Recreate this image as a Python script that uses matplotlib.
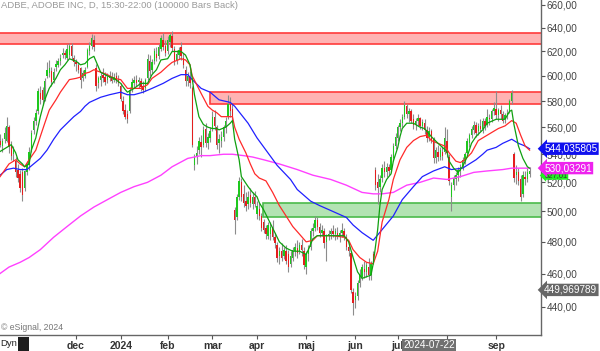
import matplotlib
matplotlib.use('Agg')
import matplotlib.pyplot as plt
from matplotlib.patches import Rectangle
import numpy as np

plt.rcParams['font.family'] = ['Liberation Sans', 'DejaVu Sans']

# daily bars, ADBE, 2023-10-11 .. 2024-09-24 (index = trading day)
open_ = [550, 548, 550, 546, 551, 550, 560, 547, 540, 535, 529, 526, 527, 516, 527,
         532, 544, 558, 565, 572, 586, 589, 582, 600, 602, 604, 597, 607, 609, 612,
         617, 619, 615, 617, 625, 615,
         611, 609, 606, 598, 600, 607, 620, 625, 630, 606, 594, 597, 601, 599, 597,
         600, 599, 597, 600, 597,
         592, 580, 573, 570, 572, 590, 594, 597, 595, 596, 592, 590, 598, 612, 605,
         612, 618, 616, 622, 630, 625,
         620, 628, 633, 622, 613, 617, 624, 615, 605, 596, 599, 590, 532, 538, 543,
         549, 547, 559, 548, 552,
         559, 568, 560, 548, 550, 553, 560, 568, 578, 574, 501, 496, 510, 520, 512,
         507, 505, 511, 505, 510,
         498, 502, 497, 493, 489, 484, 485, 490, 483, 478, 471, 474, 471, 474, 472,
         466, 470, 474, 476, 474, 478, 474,
         464, 472, 477, 487, 489, 494, 490, 486, 487, 480, 484, 485, 487, 485, 486,
         484, 486, 487, 483, 477, 473, 449,
         444, 446, 454, 458, 463, 461, 464, 459, 472, 529, 520, 517, 523, 530, 527,
         531, 529, 537, 546,
         552, 560, 563, 568, 576, 570, 572, 566, 562, 565, 567, 561, 563, 558, 553,
         557, 551, 537, 542, 538, 542, 542,
         550, 538, 510, 518, 522, 525, 528, 531, 535, 541, 548, 554, 558, 562, 557,
         561, 559, 565, 562, 567, 566, 572,
         574, 569, 573, 570, 566, 569, 572, 580, 540, 525, 527, 522, 512, 524, 522, 526]
high = [556, 553, 555, 552, 560, 568, 562, 550, 546, 538, 533, 529, 530, 529, 535,
        545, 558, 568, 574, 590, 592, 591, 598, 611, 613, 607, 606, 613, 615, 618,
        623, 621, 626, 627, 627, 617,
        614, 611, 607, 605, 607, 623, 628, 635, 634, 610, 600, 603, 606, 603, 602,
        604, 603, 602, 603, 601,
        594, 584, 578, 573, 591, 598, 600, 601, 599, 598, 596, 598, 618, 617, 614,
        623, 624, 626, 634, 636, 630,
        633, 636, 637, 625, 621, 624, 628, 619, 608, 603, 604, 592, 540, 546, 553,
        554, 561, 563, 556, 560,
        572, 573, 562, 555, 557, 562, 568, 585, 583, 578, 503, 512, 524, 523, 518,
        513, 514, 516, 513, 514,
        507, 506, 499, 495, 491, 493, 493, 494, 486, 480, 477, 479, 477, 478, 475,
        474, 477, 479, 481, 480, 482, 477,
        474, 478, 489, 492, 497, 496, 492, 491, 489, 485, 488, 489, 491, 489, 490,
        488, 492, 489, 485, 480, 474, 451,
        449, 456, 463, 466, 468, 467, 470, 468, 474, 531, 526, 525, 533, 535, 534,
        533, 540, 548, 556,
        562, 566, 570, 580, 578, 575, 574, 570, 567, 570, 568, 566, 566, 561, 560,
        559, 553, 545, 547, 545, 546, 560,
        559, 540, 520, 525, 527, 531, 533, 538, 542, 552, 556, 561, 565, 564, 563,
        566, 567, 567, 574, 570, 574, 579,
        588, 575, 577, 572, 571, 574, 582, 589, 542, 532, 530, 525, 528, 528, 530, 531]
low = [546, 544, 545, 542, 548, 549, 541, 536, 535, 524, 520, 513, 507, 514, 525,
       529, 542, 555, 562, 570, 578, 577, 580, 598, 599, 592, 594, 604, 607, 609,
       615, 614, 613, 615, 613, 608,
       604, 602, 590, 596, 598, 606, 617, 622, 620, 588, 590, 592, 595, 593, 594,
       596, 594, 595, 594, 592,
       580, 570, 566, 563, 571, 587, 590, 592, 590, 588, 586, 588, 597, 600, 602,
       610, 612, 614, 620, 621, 616,
       618, 624, 620, 609, 610, 614, 613, 606, 592, 592, 590, 545, 529, 533, 540,
       538, 545, 545, 544, 549,
       557, 558, 544, 541, 545, 550, 556, 566, 568, 565, 485, 494, 508, 507, 503,
       500, 502, 503, 502, 503,
       495, 494, 487, 486, 482, 482, 481, 481, 476, 467, 466, 468, 469, 466, 461,
       464, 468, 471, 470, 472, 471, 463,
       460, 468, 475, 484, 487, 488, 483, 484, 476, 468, 481, 482, 483, 481, 482,
       480, 483, 481, 475, 471, 448, 435,
       439, 444, 452, 456, 457, 458, 456, 456, 466, 515, 505, 513, 520, 524, 524,
       525, 527, 535, 544,
       550, 557, 560, 566, 567, 564, 563, 559, 558, 561, 559, 558, 555, 549, 550,
       548, 534, 534, 535, 536, 536, 540,
       538, 518, 500, 515, 518, 521, 524, 529, 533, 540, 545, 552, 555, 553, 554,
       557, 556, 558, 560, 562, 564, 569,
       566, 565, 566, 563, 563, 566, 571, 578, 520, 519, 518, 507, 510, 518, 520, 524]
close = [548, 550, 547, 550, 556, 561, 545, 539, 543, 527, 523, 516, 511, 528, 533,
         542, 556, 565, 571, 588, 582, 581, 596, 605, 606, 595, 603, 610, 612, 615,
         619, 617, 622, 625, 616, 611,
         610, 605, 597, 602, 605, 621, 625, 631, 624, 592, 598, 600, 598, 595, 599,
         598, 596, 599, 596, 594,
         582, 572, 568, 566, 589, 595, 597, 594, 597, 591, 589, 597, 614, 604, 611,
         620, 615, 624, 631, 624, 619,
         630, 634, 623, 612, 618, 621, 616, 609, 596, 600, 594, 547, 538, 541, 550,
         545, 558, 548, 553, 557,
         568, 561, 547, 551, 553, 560, 565, 578, 572, 568, 494, 510, 521, 510, 506,
         504, 510, 506, 510, 505,
         504, 497, 489, 488, 485, 491, 490, 483, 479, 470, 474, 470, 475, 468, 464,
         471, 475, 477, 473, 478, 475, 465,
         472, 476, 487, 489, 494, 490, 486, 488, 479, 484, 485, 487, 485, 487, 484,
         486, 488, 483, 477, 474, 450, 442,
         446, 454, 460, 464, 461, 465, 459, 466, 468, 518, 516, 522, 530, 527, 531,
         528, 538, 546, 553,
         560, 563, 568, 577, 570, 572, 565, 562, 565, 567, 561, 564, 558, 552, 557,
         550, 537, 543, 538, 543, 539, 552,
         541, 521, 518, 523, 525, 529, 531, 536, 540, 550, 554, 559, 562, 556, 561,
         559, 565, 561, 568, 566, 572, 575,
         569, 573, 570, 565, 569, 571, 580, 586, 523, 527, 521, 510, 525, 522, 527, 528]

# moving averages (bar index, value)
fast_idx = [2, 5, 7, 9, 10, 12, 13, 15, 16, 18, 20, 22, 24, 27, 29, 31, 33, 36, 38, 40,
            42, 44, 47, 50, 53, 56, 58, 59, 62, 65, 68, 70, 72, 74, 77, 79, 83, 85, 87,
            88, 89, 91, 93, 95, 97, 99, 100, 103, 105, 106, 107, 109, 110, 113, 115, 117,
            118, 120, 122, 125, 127, 130, 133, 136, 139, 140, 142, 144, 150, 156, 158,
            160, 162, 164, 168, 169, 171, 172, 173, 175, 177, 178, 180, 181, 182, 184,
            187, 190, 192, 195, 198, 200, 202, 203, 205, 207, 209, 211, 213, 215, 218,
            220, 224, 226, 228, 230, 231, 232, 234, 236, 238, 239]
fast_val = [542, 545, 547, 541, 536, 533, 531, 533, 543, 552, 568, 581, 590, 598, 605,
            609, 614, 612, 609, 610, 614, 616, 603, 600, 598, 594, 589, 587, 590, 594,
            594, 601, 605, 613, 614, 620, 620, 617, 609, 598, 585, 568, 562, 560, 559,
            559, 558, 560, 563, 565, 551, 536, 524, 517, 513, 510, 506, 501, 495, 486,
            480, 476, 474, 474, 472, 475, 482, 484, 484, 484, 480, 470, 461, 457, 459,
            466, 488, 504, 515, 522, 526, 535, 545, 553, 559, 563, 563, 560, 559, 553,
            548, 545, 542, 535, 530, 527, 531, 538, 548, 553, 558, 563, 566, 566, 566,
            572, 573, 562, 546, 537, 531, 530]
mid_idx = [2, 6, 9, 11, 13, 15, 18, 20, 22, 24, 27, 29, 31, 33, 36, 38, 40, 42, 44, 47,
           50, 53, 56, 59, 62, 65, 68, 70, 74, 77, 79, 83, 85, 87, 88, 92, 95, 97, 99,
           101, 104, 106, 107, 109, 112, 114, 116, 118, 121, 124, 127, 130, 133, 136,
           139, 142, 144, 151, 156, 158, 160, 163, 166, 169, 171, 173, 176, 178, 181,
           184, 187, 190, 193, 195, 198, 201, 203, 206, 208, 210, 213, 216, 219, 222,
           225, 228, 231, 233, 235, 237, 239]
mid_val = [524, 533, 536, 533, 531, 536, 543, 553, 563, 573, 581, 587, 592, 597, 598,
           599, 602, 603, 605, 603, 601, 598, 597, 590, 590, 590, 593, 598, 603, 608,
           611, 614, 613, 609, 600, 586, 576, 573, 571, 568, 568, 568, 560, 551, 541,
           533, 526, 523, 521, 513, 504, 497, 490, 485, 480, 481, 484, 484, 483, 481,
           475, 470, 467, 466, 474, 493, 508, 522, 536, 545, 550, 553, 554, 550, 548,
           546, 541, 535, 534, 536, 541, 550, 553, 556, 559, 561, 565, 563, 554, 546,
           543]
slow_idx = [2, 5, 8, 11, 14, 17, 20, 23, 26, 29, 32, 35, 38, 40, 42, 47, 51, 56, 59, 62,
            66, 70, 75, 79, 83, 86, 88, 92, 96, 100, 105, 107, 113, 117, 126, 132, 135,
            141, 145, 151, 157, 160, 164, 169, 173, 178, 182, 187, 191, 196, 201, 204,
            209, 211, 215, 218, 220, 224, 227, 231, 234, 237, 239]
slow_val = [525, 529, 530, 529, 529, 533, 537, 543, 551, 558, 563, 568, 572, 576, 579,
            583, 585, 587, 585, 585, 587, 590, 594, 598, 601, 601, 597, 590, 587, 581,
            579, 576, 563, 552, 532, 522, 515, 507, 504, 500, 496, 491, 486, 481, 488,
            497, 508, 517, 524, 528, 531, 529, 530, 532, 536, 540, 543, 545, 548, 551,
            548, 546, 544]
long_idx = [2, 6, 11, 15, 20, 26, 32, 38, 44, 50, 56, 62, 68, 74, 79, 86, 92, 96, 102,
            106, 111, 115, 120, 127, 135, 142, 150, 157, 164, 169, 173, 178, 184, 190,
            196, 202, 208, 214, 220, 227, 231, 239]
long_val = [460, 464, 467, 470, 475, 483, 490, 497, 503, 508, 513, 517, 520, 525, 531,
            537, 539, 539, 540, 540, 539, 538, 536, 533, 529, 525, 522, 518, 513, 512,
            512, 513, 518, 520, 523, 522, 524, 527, 528, 529, 530, 530]

# price zones (low, high) and the bar they start on
zone_top = (626.0, 636.0, 0)
zone_mid = (577.7, 587.5, 96)
zone_low = (496.2, 505.6, 119.8)

month_idx = [36, 56, 77, 97, 117, 139, 161, 180, 202, 224]
# the aug label sits under the cursor date box in the source chart
month_lbl = ['dec', '2024', 'feb', 'mar', 'apr', 'maj', 'jun', 'jul', '', 'sep']
y_ticks = [440, 460, 480, 500, 520, 540, 560, 580, 600, 620, 640, 660]

last_blue = 544.035805
last_magenta = 530.03291
last_green = 527.01
cursor_val = 449.969789

fig = plt.figure(figsize=(6, 3.51), dpi=100)
ax = fig.add_axes([0, 16 / 351, 541 / 600, 335 / 351])
ax.set_yscale('log')
ax.set_ylim(423.5, 664.45)
ax.set_xlim(1.97, 244.1)

xmax = 250
for lo, hi, start in [zone_top, zone_mid]:
    ax.add_patch(Rectangle((start, lo), xmax - start, hi - lo, facecolor='#ffb3b3',
                           edgecolor='#ff3b3b', lw=1.2, zorder=1))
lo, hi, start = zone_low
ax.add_patch(Rectangle((start, lo), xmax - start, hi - lo, facecolor='#b3e3b3',
                       edgecolor='#4cbb4c', lw=1.2, zorder=1))

idx = np.arange(len(close))
o = np.array(open_, float)
c = np.array(close, float)
ax.vlines(idx, low, high, color='#8c8c8c', lw=0.8, zorder=2)
cols = ['#1ec81e' if cc >= oo else '#e41e1e' for oo, cc in zip(o, c)]
h = np.abs(c - o)
h[h < 0.6] = 0.6
ax.bar(idx, h, bottom=np.minimum(o, c), width=0.62, color=cols, lw=0, zorder=3)

ax.plot(long_idx, long_val, color='#ff40ff', lw=1.0, zorder=4)
ax.plot(slow_idx, slow_val, color='#2020ff', lw=0.9, zorder=4)
ax.plot(mid_idx, mid_val, color='#ff2a2a', lw=0.9, zorder=4)
ax.plot(fast_idx, fast_val, color='#10a010', lw=0.9, zorder=4)

ax.yaxis.tick_right()
ax.set_yticks(y_ticks)
ax.set_yticklabels(['{:.2f}'.format(v).replace('.', ',') for v in y_ticks])
ax.yaxis.set_minor_locator(matplotlib.ticker.NullLocator())
ax.tick_params(axis='y', direction='out', length=3, width=0.8, color='#555555',
               labelsize=7.2, labelcolor='#444444', pad=1)
ax.set_xticks(month_idx)
ax.set_xticklabels(month_lbl)
for t in ax.get_xticklabels():
    t.set_fontweight('bold')
ax.tick_params(axis='x', direction='out', length=3, width=0.8, color='#555555',
               labelsize=7.5, labelcolor='#333333', pad=1)
for s in ['top', 'left']:
    ax.spines[s].set_visible(False)
for s in ['right', 'bottom']:
    ax.spines[s].set_color('#666666')
    ax.spines[s].set_linewidth(1.0)

ytr = ax.get_yaxis_transform()
lab_kw = dict(transform=ytr, va='center', ha='left', clip_on=False, zorder=10)
ax.text(1.006, last_green - 2.2, '{:.2f}'.format(last_green).replace('.', ','),
        color='#333333', fontsize=5.5,
        bbox=dict(boxstyle='larrow,pad=0.1', fc='#22ee22', ec='none'), **lab_kw)
ax.text(1.006, last_blue, '{:.6f}'.format(last_blue).replace('.', ','), color='white',
        fontsize=7.2, bbox=dict(boxstyle='larrow,pad=0.12', fc='#1010ee', ec='none'), **lab_kw)
ax.text(1.006, last_magenta, '{:.5f}'.format(last_magenta).replace('.', ','), color='white',
        fontsize=7.2, bbox=dict(boxstyle='larrow,pad=0.12', fc='#ee22ee', ec='none'), **lab_kw)
ax.text(1.006, cursor_val, '{:.6f}'.format(cursor_val).replace('.', ','), color='white',
        fontsize=7.2, bbox=dict(boxstyle='larrow,pad=0.12', fc='#666666', ec='none'), **lab_kw)

fig.text(0.002, 1 - 6 / 351, 'ADBE, ADOBE INC, D, 15:30-22:00 (100000 Bars Back)',
         fontsize=6.8, color='#9a9a9a', va='center', ha='left')
fig.text(0.002, 1 - 327 / 351, '\u00a9 eSignal, 2024', fontsize=6.2, color='#777777',
         va='center', ha='left')
fig.text(0.0, 1 - 344 / 351, 'Dyn', fontsize=6.8, color='#222222', va='center', ha='left')
fig.add_artist(Rectangle((18 / 600, 0), 11 / 600, 14 / 351, transform=fig.transFigure,
                         facecolor='#1e1e1e', edgecolor='none'))
fig.text(429 / 600, 1 - 345 / 351, '2024-07-22', fontsize=7.2, color='white',
         va='center', ha='center', zorder=10,
         bbox=dict(boxstyle='square,pad=0.15', fc='#707070', ec='none'))

fig.savefig('out.png', dpi=100)
